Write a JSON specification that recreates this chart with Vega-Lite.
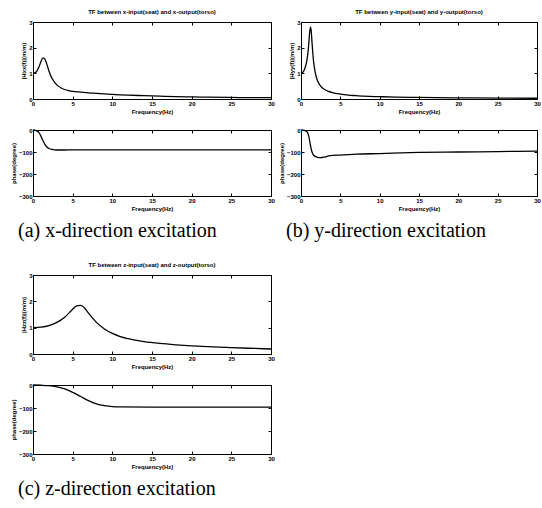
{
  "$schema": "https://vega.github.io/schema/vega-lite/v6.json",
  "padding": {"left": 9, "top": 8, "right": 0, "bottom": 2},
  "spacing": 20,
  "datasets": {
    "magx": [
      {"f": 0, "v": 1.0}, {"f": 0.25, "v": 1.02}, {"f": 0.5, "v": 1.1}, {"f": 0.75, "v": 1.25}, {"f": 1.0, "v": 1.45},
      {"f": 1.25, "v": 1.6}, {"f": 1.5, "v": 1.55}, {"f": 1.75, "v": 1.35}, {"f": 2.0, "v": 1.1}, {"f": 2.25, "v": 0.9},
      {"f": 2.5, "v": 0.75}, {"f": 3.0, "v": 0.55}, {"f": 3.5, "v": 0.44}, {"f": 4.0, "v": 0.37}, {"f": 4.5, "v": 0.33},
      {"f": 5, "v": 0.3}, {"f": 6, "v": 0.27}, {"f": 7, "v": 0.24}, {"f": 8, "v": 0.22}, {"f": 9, "v": 0.2},
      {"f": 10, "v": 0.18}, {"f": 12, "v": 0.15}, {"f": 14, "v": 0.13}, {"f": 16, "v": 0.11}, {"f": 18, "v": 0.09},
      {"f": 20, "v": 0.08}, {"f": 22, "v": 0.07}, {"f": 25, "v": 0.06}, {"f": 28, "v": 0.05}, {"f": 30, "v": 0.05}
    ],
    "phx": [
      {"f": 0, "v": 0}, {"f": 0.25, "v": -1}, {"f": 0.5, "v": -4}, {"f": 0.75, "v": -12}, {"f": 1.0, "v": -28},
      {"f": 1.25, "v": -48}, {"f": 1.5, "v": -65}, {"f": 1.75, "v": -77}, {"f": 2.0, "v": -84}, {"f": 2.5, "v": -89},
      {"f": 3.0, "v": -91}, {"f": 4, "v": -91}, {"f": 5, "v": -90}, {"f": 10, "v": -90}, {"f": 15, "v": -90},
      {"f": 20, "v": -90}, {"f": 25, "v": -90}, {"f": 30, "v": -90}
    ],
    "magy": [
      {"f": 0, "v": 1.0}, {"f": 0.25, "v": 1.05}, {"f": 0.5, "v": 1.2}, {"f": 0.75, "v": 1.5}, {"f": 0.9, "v": 1.85},
      {"f": 1.0, "v": 2.2}, {"f": 1.1, "v": 2.6}, {"f": 1.2, "v": 2.8}, {"f": 1.3, "v": 2.65}, {"f": 1.4, "v": 2.2},
      {"f": 1.5, "v": 1.8}, {"f": 1.6, "v": 1.45}, {"f": 1.8, "v": 1.05}, {"f": 2.0, "v": 0.8}, {"f": 2.25, "v": 0.62},
      {"f": 2.5, "v": 0.5}, {"f": 3, "v": 0.37}, {"f": 3.5, "v": 0.3}, {"f": 4, "v": 0.25}, {"f": 5, "v": 0.19},
      {"f": 6, "v": 0.15}, {"f": 7, "v": 0.13}, {"f": 8, "v": 0.11}, {"f": 10, "v": 0.09}, {"f": 12, "v": 0.075},
      {"f": 15, "v": 0.06}, {"f": 20, "v": 0.045}, {"f": 25, "v": 0.035}, {"f": 30, "v": 0.03}
    ],
    "phy": [
      {"f": 0, "v": 0}, {"f": 0.5, "v": -3}, {"f": 0.8, "v": -10}, {"f": 1.0, "v": -30}, {"f": 1.2, "v": -70},
      {"f": 1.4, "v": -100}, {"f": 1.6, "v": -115}, {"f": 2.0, "v": -123}, {"f": 2.5, "v": -126}, {"f": 3.0, "v": -123},
      {"f": 3.5, "v": -118}, {"f": 4.0, "v": -115}, {"f": 5, "v": -114}, {"f": 7, "v": -110}, {"f": 10, "v": -107},
      {"f": 15, "v": -102}, {"f": 20, "v": -100}, {"f": 25, "v": -98}, {"f": 30, "v": -96}
    ],
    "magz": [
      {"f": 0, "v": 1.0}, {"f": 1, "v": 1.02}, {"f": 2, "v": 1.08}, {"f": 3, "v": 1.2}, {"f": 4, "v": 1.4},
      {"f": 5, "v": 1.7}, {"f": 5.5, "v": 1.83}, {"f": 6, "v": 1.85}, {"f": 6.5, "v": 1.75}, {"f": 7, "v": 1.55},
      {"f": 8, "v": 1.2}, {"f": 9, "v": 0.95}, {"f": 10, "v": 0.78}, {"f": 11, "v": 0.66}, {"f": 12, "v": 0.58},
      {"f": 14, "v": 0.47}, {"f": 16, "v": 0.4}, {"f": 18, "v": 0.35}, {"f": 20, "v": 0.31}, {"f": 22, "v": 0.28},
      {"f": 25, "v": 0.24}, {"f": 28, "v": 0.21}, {"f": 30, "v": 0.19}
    ],
    "phz": [
      {"f": 0, "v": 0}, {"f": 1, "v": -1}, {"f": 2, "v": -3}, {"f": 3, "v": -8}, {"f": 4, "v": -17},
      {"f": 5, "v": -32}, {"f": 6, "v": -50}, {"f": 7, "v": -68}, {"f": 8, "v": -82}, {"f": 9, "v": -90},
      {"f": 10, "v": -94}, {"f": 11, "v": -95}, {"f": 15, "v": -96}, {"f": 20, "v": -96}, {"f": 25, "v": -96}, {"f": 30, "v": -96}
    ]
  },
  "vconcat": [
    {
      "spacing": 2,
      "hconcat": [
        {
          "spacing": 11,
          "title": {"text": "(a) x-direction excitation", "orient": "bottom", "font": "Liberation Serif", "fontSize": 20, "fontWeight": "normal", "anchor": "start", "offset": 9, "dx": 8},
          "vconcat": [
            {
              "width": 238, "height": 77,
              "title": {"text": "TF between x-input(seat) and x-output(torso)", "fontSize": 6, "offset": 4},
              "data": {"name": "magx"},
              "layer": [
                {"mark": "line", "encoding": {
                  "x": {"field": "f", "type": "quantitative", "scale": {"domain": [0, 30]}, "axis": {"values": [0,5,10,15,20,25,30], "title": "Frequency(Hz)"}},
                  "y": {"field": "v", "type": "quantitative", "scale": {"domain": [0, 3]}, "axis": {"values": [0,1,2,3], "title": "|Hxx(f)|(m/m)"}}}},
                {"mark": {"type": "line", "opacity": 0}, "encoding": {
                  "x": {"field": "f", "type": "quantitative", "axis": {"orient": "top", "values": [0,5,10,15,20,25,30], "labels": false, "domain": false, "title": null}},
                  "y": {"field": "v", "type": "quantitative", "axis": {"orient": "right", "values": [0,1,2,3], "labels": false, "domain": false, "title": null}}}}
              ],
              "resolve": {"axis": {"x": "independent", "y": "independent"}}
            },
            {
              "width": 238, "height": 66,
              "data": {"name": "phx"},
              "layer": [
                {"mark": "line", "encoding": {
                  "x": {"field": "f", "type": "quantitative", "scale": {"domain": [0, 30]}, "axis": {"values": [0,5,10,15,20,25,30], "title": "Frequency(Hz)"}},
                  "y": {"field": "v", "type": "quantitative", "scale": {"domain": [-300, 0]}, "axis": {"values": [0,-100,-200,-300], "title": "phase(degree)"}}}},
                {"mark": {"type": "line", "opacity": 0}, "encoding": {
                  "x": {"field": "f", "type": "quantitative", "axis": {"orient": "top", "values": [0,5,10,15,20,25,30], "labels": false, "domain": false, "title": null}},
                  "y": {"field": "v", "type": "quantitative", "axis": {"orient": "right", "values": [0,-100,-200,-300], "labels": false, "domain": false, "title": null}}}}
              ],
              "resolve": {"axis": {"x": "independent", "y": "independent"}}
            }
          ]
        },
        {
          "spacing": 11,
          "title": {"text": "(b) y-direction excitation", "orient": "bottom", "font": "Liberation Serif", "fontSize": 20, "fontWeight": "normal", "anchor": "start", "offset": 9, "dx": 8},
          "vconcat": [
            {
              "width": 236, "height": 77,
              "title": {"text": "TF between y-input(seat) and y-output(torso)", "fontSize": 6, "offset": 4},
              "data": {"name": "magy"},
              "layer": [
                {"mark": "line", "encoding": {
                  "x": {"field": "f", "type": "quantitative", "scale": {"domain": [0, 30]}, "axis": {"values": [0,5,10,15,20,25,30], "title": "Frequency(Hz)"}},
                  "y": {"field": "v", "type": "quantitative", "scale": {"domain": [0, 3]}, "axis": {"values": [0,1,2,3], "title": "|Hyy(f)|(m/m)"}}}},
                {"mark": {"type": "line", "opacity": 0}, "encoding": {
                  "x": {"field": "f", "type": "quantitative", "axis": {"orient": "top", "values": [0,5,10,15,20,25,30], "labels": false, "domain": false, "title": null}},
                  "y": {"field": "v", "type": "quantitative", "axis": {"orient": "right", "values": [0,1,2,3], "labels": false, "domain": false, "title": null}}}}
              ],
              "resolve": {"axis": {"x": "independent", "y": "independent"}}
            },
            {
              "width": 236, "height": 66,
              "data": {"name": "phy"},
              "layer": [
                {"mark": "line", "encoding": {
                  "x": {"field": "f", "type": "quantitative", "scale": {"domain": [0, 30]}, "axis": {"values": [0,5,10,15,20,25,30], "title": "Frequency(Hz)"}},
                  "y": {"field": "v", "type": "quantitative", "scale": {"domain": [-300, 0]}, "axis": {"values": [0,-100,-200,-300], "title": "phase(degree)"}}}},
                {"mark": {"type": "line", "opacity": 0}, "encoding": {
                  "x": {"field": "f", "type": "quantitative", "axis": {"orient": "top", "values": [0,5,10,15,20,25,30], "labels": false, "domain": false, "title": null}},
                  "y": {"field": "v", "type": "quantitative", "axis": {"orient": "right", "values": [0,-100,-200,-300], "labels": false, "domain": false, "title": null}}}}
              ],
              "resolve": {"axis": {"x": "independent", "y": "independent"}}
            }
          ]
        }
      ]
    },
    {
      "spacing": 11,
      "title": {"text": "(c) z-direction excitation", "orient": "bottom", "font": "Liberation Serif", "fontSize": 20, "fontWeight": "normal", "anchor": "start", "offset": 9, "dx": 8},
      "vconcat": [
        {
          "width": 238, "height": 79,
          "title": {"text": "TF between z-input(seat) and z-output(torso)", "fontSize": 6, "offset": 4},
          "data": {"name": "magz"},
          "layer": [
            {"mark": "line", "encoding": {
              "x": {"field": "f", "type": "quantitative", "scale": {"domain": [0, 30]}, "axis": {"values": [0,5,10,15,20,25,30], "title": "Frequency(Hz)"}},
              "y": {"field": "v", "type": "quantitative", "scale": {"domain": [0, 3]}, "axis": {"values": [0,1,2,3], "title": "|Hzz(f)|(m/m)"}}}},
            {"mark": {"type": "line", "opacity": 0}, "encoding": {
              "x": {"field": "f", "type": "quantitative", "axis": {"orient": "top", "values": [0,5,10,15,20,25,30], "labels": false, "domain": false, "title": null}},
              "y": {"field": "v", "type": "quantitative", "axis": {"orient": "right", "values": [0,1,2,3], "labels": false, "domain": false, "title": null}}}}
          ],
          "resolve": {"axis": {"x": "independent", "y": "independent"}}
        },
        {
          "width": 238, "height": 69,
          "data": {"name": "phz"},
          "layer": [
            {"mark": "line", "encoding": {
              "x": {"field": "f", "type": "quantitative", "scale": {"domain": [0, 30]}, "axis": {"values": [0,5,10,15,20,25,30], "title": "Frequency(Hz)"}},
              "y": {"field": "v", "type": "quantitative", "scale": {"domain": [-300, 0]}, "axis": {"values": [0,-100,-200,-300], "title": "phase(degree)"}}}},
            {"mark": {"type": "line", "opacity": 0}, "encoding": {
              "x": {"field": "f", "type": "quantitative", "axis": {"orient": "top", "values": [0,5,10,15,20,25,30], "labels": false, "domain": false, "title": null}},
              "y": {"field": "v", "type": "quantitative", "axis": {"orient": "right", "values": [0,-100,-200,-300], "labels": false, "domain": false, "title": null}}}}
          ],
          "resolve": {"axis": {"x": "independent", "y": "independent"}}
        }
      ]
    }
  ],
  "config": {
    "font": "Liberation Sans",
    "background": "white",
    "view": {"stroke": "black", "strokeWidth": 1},
    "axis": {"grid": false, "domainColor": "black", "tickColor": "black", "labelColor": "black", "titleColor": "black",
      "labelFontSize": 6, "titleFontSize": 6, "labelFontWeight": "bold", "titleFontWeight": "bold",
      "tickSize": -3, "labelPadding": 4, "titlePadding": 2, "labelFlush": false, "labelOverlap": false},
    "title": {"fontSize": 6, "fontWeight": "bold", "color": "black", "font": "Liberation Sans"},
    "line": {"color": "black", "strokeWidth": 1.3, "interpolate": "monotone"}
  }
}
